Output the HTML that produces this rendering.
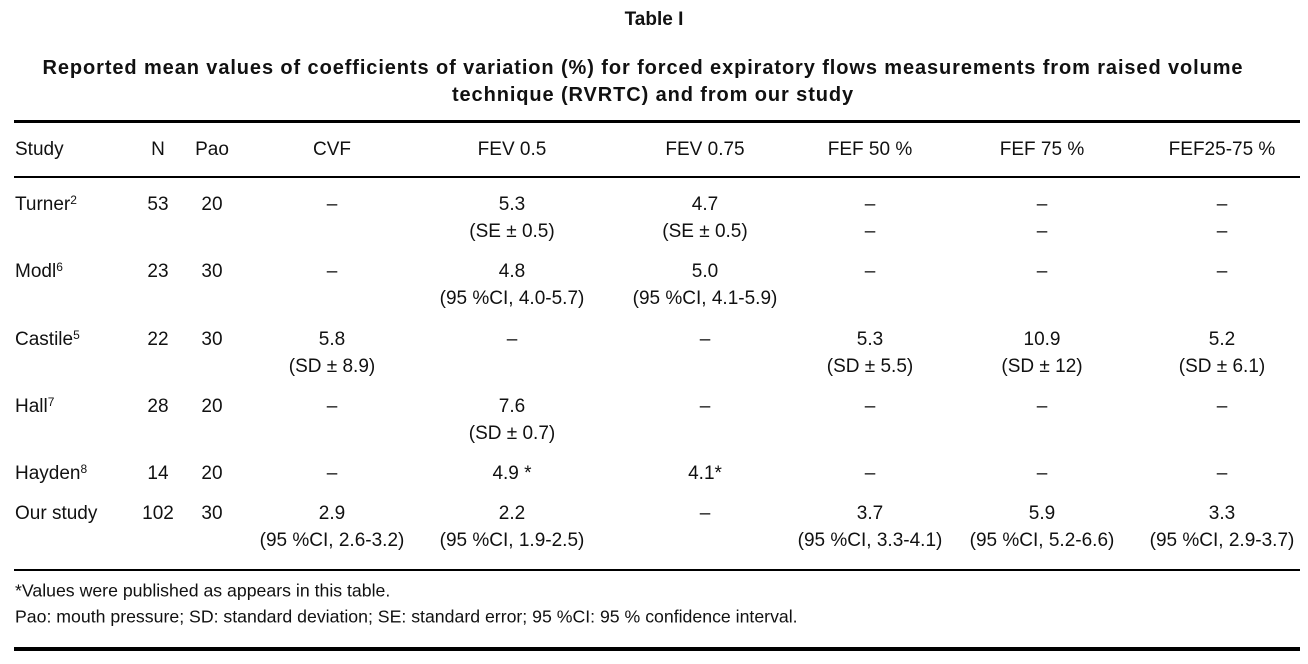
<!DOCTYPE html>
<html><head><meta charset="utf-8"><style>
body{margin:0;width:1308px;height:664px;background:#fff;position:relative;font-family:"Liberation Sans",Arial,sans-serif;color:#111;overflow:hidden}
.t{position:absolute;white-space:nowrap;font-size:19px;line-height:22px;transform:translate(-50%,-50%)}
.l{position:absolute;white-space:nowrap;font-size:19px;line-height:22px;transform:translateY(-50%)}
.b{font-weight:bold;font-size:19px}
.cap{font-size:20px;letter-spacing:0.9px}
.rule{position:absolute;left:14px;width:1286px;background:#000}
sup{font-size:12px;vertical-align:6px;line-height:0}
.f{position:absolute;left:15px;font-size:17.7px;white-space:nowrap;transform:translateY(-50%)}
</style></head><body>
<div class="t b" style="left:654px;top:20px">Table I</div>
<div class="t b cap" style="left:643px;top:68px">Reported mean values of coefficients of variation (%) for forced expiratory flows measurements from raised volume</div>
<div class="t b cap" style="left:653px;top:95px">technique (RVRTC) and from our study</div>
<div class="rule" style="top:120px;height:3px"></div>
<div class="rule" style="top:176px;height:1.5px"></div>
<div class="rule" style="top:569px;height:1.5px"></div>
<div class="rule" style="top:647px;height:4px"></div>
<div id="tbl"></div>
<div class="f" style="top:591px">*Values were published as appears in this table.</div>
<div class="f" style="top:617px">Pao: mouth pressure; SD: standard deviation; SE: standard error; 95 %CI: 95 % confidence interval.</div>
<script>
const cols=[158,212,332,512,705,870,1042,1222];
const headers=["N","Pao","CVF","FEV 0.5","FEV 0.75","FEF 50 %","FEF 75 %","FEF25-75 %"];
const rowY=[205,272,340,407,474,514];
const names=[["Turner","2"],["Modl","6"],["Castile","5"],["Hall","7"],["Hayden","8"],["Our study",""]];
const rows=[
[["53"],["20"],["–"],["5.3","(SE ± 0.5)"],["4.7","(SE ± 0.5)"],["–","–"],["–","–"],["–","–"]],
[["23"],["30"],["–"],["4.8","(95 %CI, 4.0-5.7)"],["5.0","(95 %CI, 4.1-5.9)"],["–"],["–"],["–"]],
[["22"],["30"],["5.8","(SD ± 8.9)"],["–"],["–"],["5.3","(SD ± 5.5)"],["10.9","(SD ± 12)"],["5.2","(SD ± 6.1)"]],
[["28"],["20"],["–"],["7.6","(SD ± 0.7)"],["–"],["–"],["–"],["–"]],
[["14"],["20"],["–"],["4.9 *"],["4.1*"],["–"],["–"],["–"]],
[["102"],["30"],["2.9","(95 %CI, 2.6-3.2)"],["2.2","(95 %CI, 1.9-2.5)"],["–"],["3.7","(95 %CI, 3.3-4.1)"],["5.9","(95 %CI, 5.2-6.6)"],["3.3","(95 %CI, 2.9-3.7)"]]
];
const tb=document.getElementById('tbl');
function add(cls,x,y,html,name){const d=document.createElement('div');d.className=cls;d.style.left=x+'px';d.style.top=y+'px';d.innerHTML=html;


tb.appendChild(d);}
add('l',15,150,'Study','header-study');
headers.forEach((h,i)=>add('t',cols[i],150,h,'header-'+i));
rows.forEach((r,ri)=>{
add('l',15,rowY[ri],names[ri][0]+(names[ri][1]?'<sup>'+names[ri][1]+'</sup>':''),'row-label-'+ri);
r.forEach((c,ci)=>c.forEach((v,li)=>add('t',cols[ci],rowY[ri]+li*27,v,'cell-'+ri+'-'+ci+'-'+li)));
});
</script>
</body></html>
